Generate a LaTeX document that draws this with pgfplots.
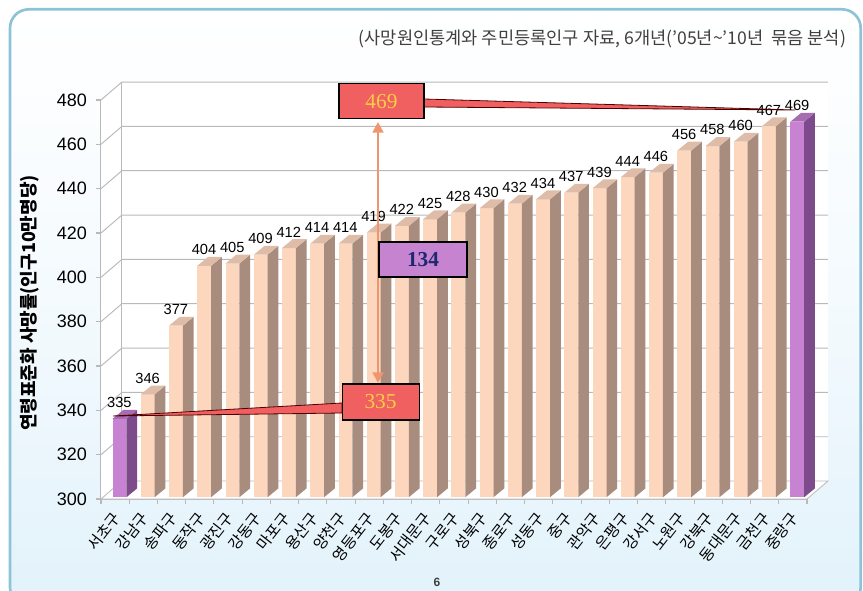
\documentclass[border=0pt]{standalone}
\usepackage{pgfplots}
\pgfplotsset{compat=1.18}
\usepackage{pgfplotstable}
\usepackage{fontspec}
\setmainfont{Liberation Sans}
\newfontfamily\kr{Noto Sans CJK KR}
\newfontfamily\seriff{Liberation Serif}
\usetikzlibrary{arrows.meta}

\definecolor{bgblue}{RGB}{226,242,251}
\definecolor{bordercol}{RGB}{140,195,215}
\definecolor{frontC}{RGB}{253,214,190}
\definecolor{sideC}{RGB}{168,140,126}
\definecolor{topC}{RGB}{222,188,168}
\definecolor{frontP}{RGB}{200,130,210}
\definecolor{sideP}{RGB}{125,75,140}
\definecolor{topP}{RGB}{168,108,178}
\definecolor{boxred}{RGB}{240,96,96}
\definecolor{boxtext}{RGB}{250,205,70}
\definecolor{boxpurple}{RGB}{198,132,208}
\definecolor{navy}{RGB}{30,40,110}
\definecolor{arrowcol}{RGB}{240,150,110}
\definecolor{wallline}{RGB}{185,185,185}

\pgfplotstableread{
x v
0 335
1 346
2 377
3 404
4 405
5 409
6 412
7 414
8 414
9 419
10 422
11 425
12 428
13 430
14 432
15 434
16 437
17 439
18 444
19 446
20 456
21 458
22 460
23 467
24 469
}\datatable

\begin{document}
\begin{tikzpicture}
\useasboundingbox (0,0) rectangle (647.25pt,442.5pt);
\shade[top color=white, bottom color=bgblue, middle color=white!60!bgblue, rounded corners=14pt] (7.5pt,-12pt) rectangle (645.5pt,435.5pt);
\draw[bordercol, line width=2pt, rounded corners=14pt] (7.5pt,-12pt) rectangle (645.5pt,435.5pt);

\begin{axis}[
  at={(75.75pt,68.25pt)}, anchor=south west,
  width=529.5pt, height=299.25pt, scale only axis,
  xmin=-0.5, xmax=24.5, ymin=300, ymax=480,
  clip=false,
  axis x line*=bottom, axis y line*=left,
  axis line style={wallline, line width=0.8pt},
  tick style={wallline, line width=0.8pt},
  tick align=outside,
  major tick length=4pt,
  ytick={300,320,...,480},
  yticklabel style={font=\fontsize{13.5}{14}\selectfont, xshift=-3pt},
  /pgf/number format/assume math mode=true,
  xtick={-0.5,0.5,...,24.5},
  x tick label as interval,
  xticklabels={서초구,강남구,송파구,동작구,광진구,강동구,마포구,용산구,양천구,영등포구,도봉구,서대문구,구로구,성북구,종로구,성동구,중구,관악구,은평구,강서구,노원구,강북구,동대문구,금천구,중랑구},
  xticklabel style={font=\kr\fontsize{11.5}{12}\selectfont, rotate=52, anchor=east, xshift=-2pt, yshift=-6pt},
]
% walls and floor
\addplot[fill=white, draw=none] coordinates {(0.24,308.1) (25.24,308.1) (25.24,488.1) (0.24,488.1)} -- cycle;
\addplot[fill=white, draw=none] coordinates {(-0.5,300) (0.24,308.1) (0.24,488.1) (-0.5,480)} -- cycle;
\addplot[fill=white, draw=wallline, line width=0.6pt] coordinates {(-0.5,300) (24.5,300) (25.24,308.1) (0.24,308.1)} -- cycle;
\pgfplotsinvokeforeach{320,340,360,380,400,420,440,460,480}{
  \addplot[wallline, line width=0.7pt] coordinates {(-0.5,#1) (0.24,#1+8.1) (25.24,#1+8.1)};
}
\addplot[wallline, line width=0.7pt] coordinates {(0.24,308.1) (0.24,488.1)};
% bars
\pgfplotsinvokeforeach{0,...,24}{
  \pgfplotstablegetelem{#1}{v}\of\datatable
  \let\vv\pgfplotsretval
  \ifnum#1=0 \def\fc{frontP}\def\sc{sideP}\def\tc{topP}%
  \else\ifnum#1=24 \def\fc{frontP}\def\sc{sideP}\def\tc{topP}%
  \else \def\fc{frontC}\def\sc{sideC}\def\tc{topC}\fi\fi
  \pgfmathsetmacro\xa{#1-0.09}
  \pgfmathsetmacro\xb{#1+0.40}
  \pgfmathsetmacro\xc{#1+0.78}
  \pgfmathsetmacro\xd{#1+0.29}
  \pgfmathsetmacro\yt{\vv+1.2}
  \pgfmathsetmacro\ytb{\vv+5.2}
  \edef\cmd{%
    \noexpand\addplot[fill=\fc, draw=none] coordinates {(\xa,300.8) (\xb,300.8) (\xb,\yt) (\xa,\yt)} -- cycle;
    \noexpand\addplot[fill=\sc, draw=none] coordinates {(\xb,300.8) (\xc,304.8) (\xc,\ytb) (\xb,\yt)} -- cycle;
    \noexpand\addplot[fill=\tc, draw=none] coordinates {(\xa,\yt) (\xb,\yt) (\xc,\ytb) (\xd,\ytb)} -- cycle;
  }\cmd
}
% value labels
\addplot[draw=none, mark=none, nodes near coords, point meta=explicit,
  nodes near coords style={font=\fontsize{11}{12}\selectfont, anchor=center, text=black}]
  table[x expr=\thisrow{x}+0.15, y expr=\thisrow{v}+8.5, meta=v] {\datatable};
\end{axis}

% y label
\node[rotate=90, font=\kr\bfseries\fontsize{13.5}{14}\selectfont] at (22.5pt,215.25pt) {연령표준화 사망률(인구10만명당)};
% subtitle
\node[anchor=east, font=\kr\fontsize{13.2}{14}\selectfont, text=black!75] at (638pt,413pt) {(사망원인통계와 주민등록인구 자료, 6개년(’05년\textasciitilde’10년\ \ 묶음 분석)};
% page number
\node[font=\bfseries\fontsize{9}{10}\selectfont, text=black!75] at (327.75pt,6pt) {6};

% callout wedges
\filldraw[fill=boxred, draw=black!70!red, line width=0.6pt] (318pt,368.25pt) -- (318pt,362.25pt) -- (596.25pt,360pt) -- cycle;
\filldraw[fill=boxred, draw=black!70!red, line width=0.6pt] (256.5pt,140.25pt) -- (256.5pt,132.75pt) -- (84.75pt,130.5pt) -- cycle;
% arrow
\draw[arrowcol, line width=2.2pt, {Triangle[width=8pt,length=8pt]}-{Triangle[width=8pt,length=8pt]}] (283.5pt,351pt) -- (283.5pt,155.25pt);
% boxes
\node[draw=black, line width=0.8pt, fill=boxred, minimum width=63.75pt, minimum height=26.25pt, inner sep=0pt, font=\seriff\fontsize{16}{17}\selectfont, text=boxtext] at (286.1pt,366.4pt) {469};
\node[draw=black, line width=0.8pt, fill=boxred, minimum width=57.75pt, minimum height=27pt, inner sep=0pt, font=\seriff\fontsize{16}{17}\selectfont, text=boxtext] at (285.4pt,141pt) {335};
\node[draw=black, line width=0.8pt, fill=boxpurple, minimum width=66pt, minimum height=26.25pt, inner sep=0pt, font=\seriff\bfseries\fontsize{16}{17}\selectfont, text=navy] at (317.25pt,247.9pt) {134};
\end{tikzpicture}
\end{document}
